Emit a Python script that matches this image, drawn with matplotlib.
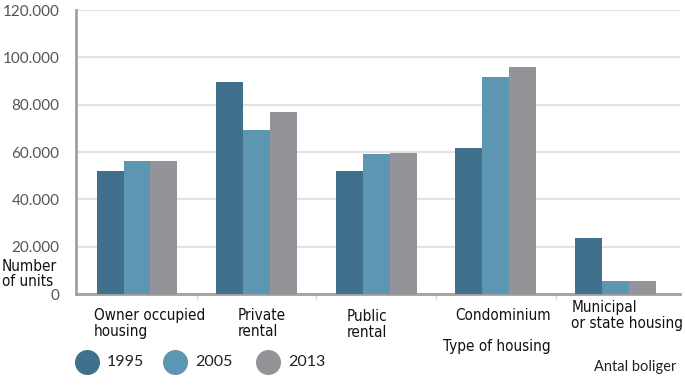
import matplotlib
matplotlib.use("Agg")
import matplotlib.pyplot as plt
from matplotlib.transforms import blended_transform_factory
from matplotlib.lines import Line2D
import numpy as np

categories = ["Owner occupied\nhousing", "Private\nrental", "Public\nrental",
              "Condominium", "Municipal\nor state housing"]
years = ["1995", "2005", "2013"]
v1995 = [52000, 89700, 52000, 61700, 23700]
v2005 = [56000, 69300, 59100, 91900, 5300]
v2013 = [56000, 77100, 59700, 95900, 5500]
yticks = [0, 20000, 40000, 60000, 80000, 100000, 120000]
ytick_labels = ["0", "20.000", "40.000", "60.000", "80.000", "100.000", "120.000"]

colors = ["#40708c", "#5d96b2", "#939497"]
narrow = dict(family=["DejaVu Sans"], stretch="condensed")

fig = plt.figure(figsize=(6.85, 3.85), dpi=100)
ax = fig.add_axes([76/685, 1-294/385, (680-76)/685, (294-10)/385])

x = np.arange(len(categories))
w = 0.225
for i, (vals, c) in enumerate(zip([v1995, v2005, v2013], colors)):
    ax.bar(x + (i-1)*w, vals, width=w, color=c, zorder=3)

ax.set_xlim(-0.51, 4.54)
ax.set_ylim(0, 120000)
ax.set_yticks(yticks)
ax.set_yticklabels(ytick_labels, fontsize=11, color="#555555", family=["Lato", "DejaVu Sans"])
ax.tick_params(axis="y", length=0, pad=12)
ax.set_xticks(x[:-1] + 0.5)
ax.set_xticklabels([])
ax.tick_params(axis="x", length=4, color="#dddddd", width=1)
ax.grid(axis="y", color="#e3e3e3", linewidth=1.5, zorder=0)
ax.spines["right"].set_visible(False)
ax.spines["top"].set_visible(False)
for s in ["left", "bottom"]:
    ax.spines[s].set_color("#a0a0a0")
    ax.spines[s].set_linewidth(2)

trans = blended_transform_factory(ax.transData, fig.transFigure)
label_x = [-0.36, 0.84, 1.75, 2.66, 3.63]
label_y = [308, 308, 309, 308, 300]
for lx, ly, lab in zip(label_x, label_y, categories):
    ax.text(lx, 1-ly/385, lab, transform=trans, ha="left", va="top",
            fontsize=11, linespacing=1.05, color="#111111", **narrow)

fig.text(443/685, 1-347/385, "Type of housing", ha="left", va="center",
         fontsize=11, color="#111111", **narrow)
fig.text(2/685, 1-274/385, "Number\nof units", ha="left", va="center",
         fontsize=11, linespacing=0.95, color="#111111", **narrow)
fig.text(676/685, 1-367/385, "Antal boliger", ha="right", va="center",
         fontsize=10.5, family=["Lato", "DejaVu Sans"], color="#222222")

leg_x = [87, 175, 268]
for lx, c, yr in zip(leg_x, colors, years):
    fig.add_artist(Line2D([lx/685], [1-362/385], marker="o", markersize=17,
                          color=c, transform=fig.transFigure, linestyle="none"))
    fig.text((lx+20)/685, 1-362/385, yr, ha="left", va="center",
             fontsize=11.5, family=["Lato", "DejaVu Sans"], color="#222222")

fig.savefig("out.png", dpi=100)
